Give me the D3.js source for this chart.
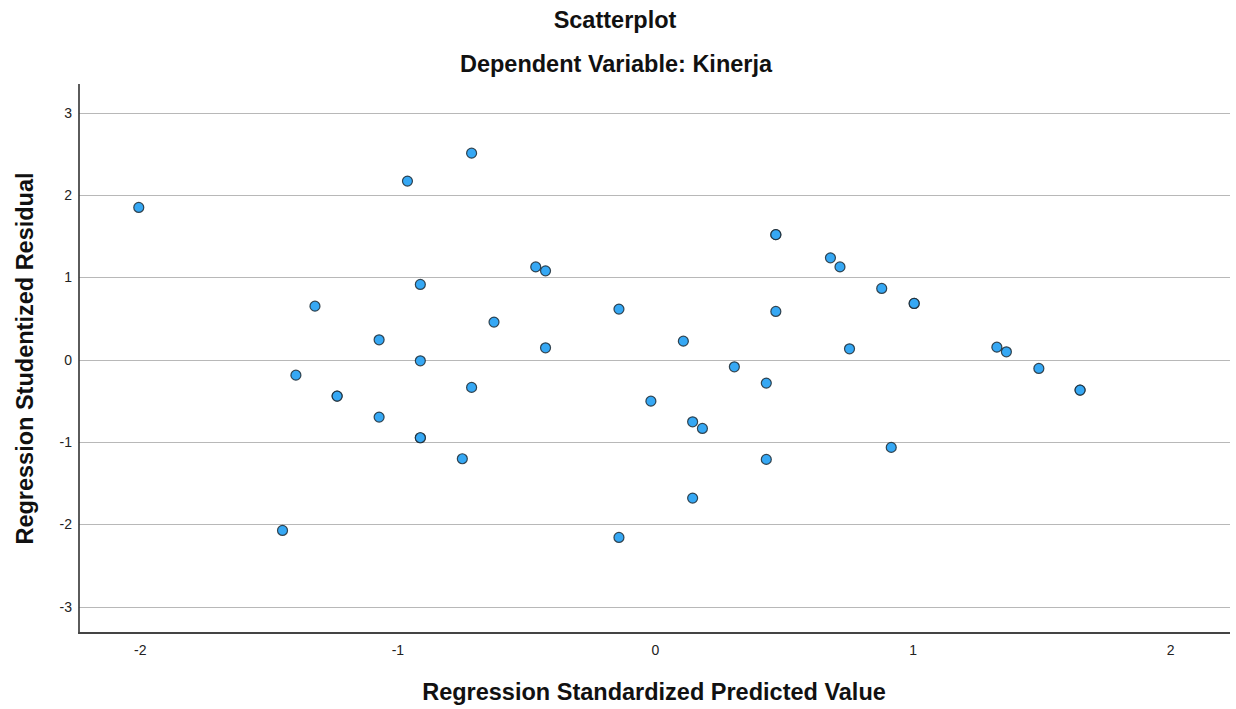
<!DOCTYPE html>
<html>
<head>
<meta charset="utf-8">
<script src="https://cdn.jsdelivr.net/npm/d3@7"></script>
<style>
html,body{margin:0;padding:0;background:#fff;}
svg{display:block;font-family:"Liberation Sans",Arial,sans-serif;}
</style>
</head>
<body>
<svg id="chart" width="1236" height="709"></svg>
<script>
// Regression standardized predicted values (x) and studentized residuals (y)
const predicted = [
  -2.004, -0.961, -0.712, -0.911, -1.320, -1.071, -0.911, -1.394, -1.234, -1.234,
  -0.712, -1.071, -0.911, -0.911, -0.748, -1.446, -0.463, -0.425, -0.625, -0.425,
  -0.140, 0.469, 0.469, 0.469, 0.681, 0.718, 0.755, 0.110, 0.308, 0.432,
  -0.016, 0.146, 0.184, 0.432, 0.146, -0.140, 0.880, 1.006, 1.006, 1.327,
  1.364, 1.490, 1.650, 1.650, 0.917
];
const residual = [
  1.85, 2.17, 2.51, 0.915, 0.651, 0.242, -0.013, -0.187, -0.442, -0.442,
  -0.336, -0.697, -0.948, -0.948, -1.203, -2.074, 1.128, 1.08, 0.457, 0.145,
  0.615, 1.52, 1.52, 0.587, 1.238, 1.128, 0.133, 0.226, -0.086, -0.284,
  -0.503, -0.754, -0.835, -1.211, -1.681, -2.159, 0.866, 0.684, 0.684, 0.153,
  0.096, -0.106, -0.369, -0.369, -1.065
];
const xTicks = [-2, -1, 0, 1, 2];
const yTicks = [-3, -2, -1, 0, 1, 2, 3];
const titleText = "Scatterplot";
const subtitleText = "Dependent Variable: Kinerja";
const xTitle = "Regression Standardized Predicted Value";
const yTitle = "Regression Studentized Residual";

const svg = d3.select("#chart");
const pL = 79, pR = 1230, pT = 84, pB = 633;

const x = d3.scaleLinear().domain([-2.236, 2.232]).range([pL, pR]);
const y = d3.scaleLinear().domain([-3.32, 3.35]).range([pB, pT]);

// gridlines
svg.append("g")
  .selectAll("line").data(yTicks).join("line")
  .attr("x1", pL).attr("x2", pR)
  .attr("y1", d => Math.round(y(d)) + 0.5).attr("y2", d => Math.round(y(d)) + 0.5)
  .attr("stroke", "#b8b8b8").attr("stroke-width", 1.2);

// y axis
const yAxis = svg.append("g").attr("transform", `translate(${pL},0)`)
  .call(d3.axisLeft(y).tickValues(yTicks).tickSize(0).tickPadding(7).tickFormat(d => String(d)));
yAxis.select(".domain").remove();
yAxis.selectAll("text").attr("font-size", 14).attr("fill", "#222")
  .attr("font-family", "'Liberation Sans', Arial, sans-serif");

// x axis
const xAxis = svg.append("g").attr("transform", `translate(0,${pB})`)
  .call(d3.axisBottom(x).tickValues(xTicks).tickSize(0).tickPadding(12).tickFormat(d => String(d)));
xAxis.select(".domain").remove();
xAxis.selectAll("text").attr("font-size", 14).attr("fill", "#222")
  .attr("font-family", "'Liberation Sans', Arial, sans-serif");

// axis lines
svg.append("line").attr("x1", pL).attr("x2", pL).attr("y1", pT).attr("y2", pB + 1)
  .attr("stroke", "#333").attr("stroke-width", 1.6);
svg.append("line").attr("x1", pL - 0.8).attr("x2", pR).attr("y1", pB).attr("y2", pB)
  .attr("stroke", "#444").attr("stroke-width", 2);

// points
const pts = predicted.map((v, i) => ({x: v, y: residual[i]}));
svg.append("g").selectAll("circle").data(pts).join("circle")
  .attr("cx", d => x(d.x)).attr("cy", d => y(d.y)).attr("r", 5)
  .attr("fill", "#36a8f4").attr("stroke", "#1e2a33").attr("stroke-width", 1.2)
  .attr("stroke-opacity", 0.85);

// titles
svg.append("text").attr("x", 615).attr("y", 28).attr("text-anchor", "middle")
  .attr("font-size", 23.5).attr("font-weight", "bold").attr("fill", "#111").text(titleText);
svg.append("text").attr("x", 616).attr("y", 72).attr("text-anchor", "middle")
  .attr("font-size", 23.5).attr("font-weight", "bold").attr("fill", "#111").text(subtitleText);
svg.append("text").attr("x", 654).attr("y", 700).attr("text-anchor", "middle")
  .attr("font-size", 23.5).attr("font-weight", "bold").attr("fill", "#111").text(xTitle);
svg.append("text").attr("transform", `translate(33,${(pT + pB) / 2}) rotate(-90)`)
  .attr("text-anchor", "middle")
  .attr("font-size", 23.5).attr("font-weight", "bold").attr("fill", "#111").text(yTitle);
</script>
</body>
</html>
